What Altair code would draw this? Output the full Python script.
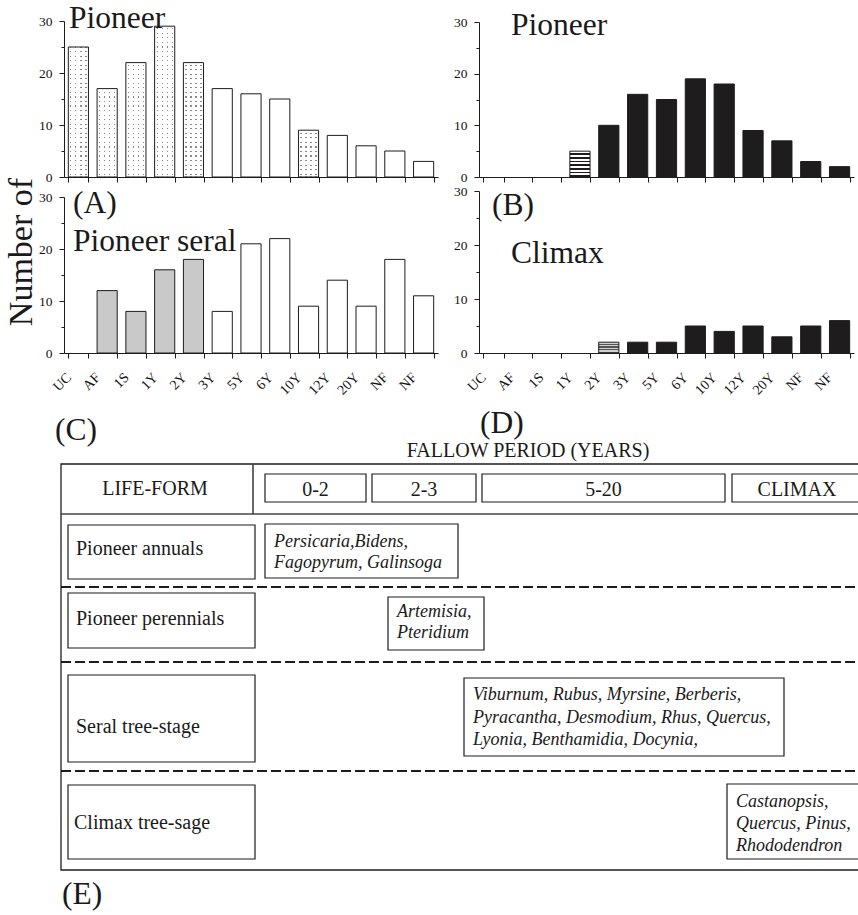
import altair as alt
import pandas as pd

W, H = 858, 915
SERIF = "Liberation Serif"
INK = "#1f1c1d"

# Fallow-age classes along the x axis (two separate "NF" classes)
periods = ["UC", "AF", "1S", "1Y", "2Y", "3Y", "5Y", "6Y", "10Y", "12Y", "20Y", "NF", "NF"]

# Number of species in each class
pioneer_a = [25, 17, 22, 29, 22, 17, 16, 15, 9, 8, 6, 5, 3]
pioneer_b = [0, 0, 0, 5, 10, 16, 15, 19, 18, 9, 7, 3, 2]
seral_c = [0, 12, 8, 16, 18, 8, 21, 22, 9, 14, 9, 18, 11]
climax_d = [0, 0, 0, 0, 2, 2, 2, 5, 4, 5, 3, 5, 6]

# Bar shading per class
shade_a = ["dots"] * 5 + ["plain"] * 3 + ["dots"] + ["plain"] * 4
shade_b = ["plain"] * 3 + ["stripes"] + ["solid"] * 9
shade_c = ["plain"] + ["dense"] * 4 + ["plain"] * 8
shade_d = ["plain"] * 4 + ["stripes"] + ["solid"] * 8

SHADES = {"plain": "#ffffff", "dots": "#ffffff", "dense": "#c9c9c9", "solid": INK}

# Succession table (E)
period_heads = ["0-2", "2-3", "5-20", "CLIMAX"]
life_forms = ["Pioneer annuals", "Pioneer perennials", "Seral tree-stage", "Climax tree-sage"]
species = [
    ["Persicaria,Bidens,", "Fagopyrum, Galinsoga"],
    ["Artemisia,", "Pteridium"],
    ["Viburnum, Rubus, Myrsine, Berberis,", "Pyracantha, Desmodium, Rhus,  Quercus,",
     "Lyonia, Benthamidia,  Docynia,"],
    ["Castanopsis,", "Quercus, Pinus,", "Rhododendron"],
]

label_js = "[" + ",".join("'%s'" % p for p in periods) + "][datum.value]"
N = len(periods)
PAD_IN, PAD_OUT = 0.3, 0.15


def banded(n, on, off, along="y", on_frac=0.45, start=0.55):
    """Linear gradient made of n hard-edged bands."""
    stops = []
    for k in range(n):
        a, b, c = k / n, (k + start) / n, min((k + start + on_frac) / n, (k + 1) / n)
        stops += [{"offset": a, "color": off}, {"offset": b, "color": off},
                  {"offset": b, "color": on}, {"offset": c, "color": on},
                  {"offset": c, "color": off}, {"offset": (k + 1) / n, "color": off}]
    g = {"gradient": "linear", "x1": 0, "y1": 0, "x2": 0, "y2": 1, "stops": stops}
    if along == "x":
        g.update(x2=1, y2=0)
    return g


def encodings(x_px, y_px, labels=None, axes=True):
    xaxis = dict(orient="bottom", offset=y_px[0] - H, tickBand="extent", tickSize=5,
                 tickColor=INK, domainColor=INK, tickWidth=1, domainWidth=1,
                 title=None, grid=False, labels=labels is not None)
    if labels is not None:
        xaxis.update(labelExpr=label_js, labelAngle=-45, labelAlign="right",
                     labelBaseline="middle", labelOffset=labels[0], labelPadding=labels[1],
                     labelFont=SERIF, labelFontSize=14, labelColor="#111")
    yaxis = alt.Axis(orient="left", offset=-x_px[0], values=[0, 5, 10, 15, 20, 25, 30],
                     labelExpr="datum.value % 10 === 0 ? datum.label : ''",
                     tickSize={"condition": {"test": "datum.value % 10 === 0", "value": 5}, "value": 3},
                     tickColor=INK, domainColor=INK, labelFont=SERIF, labelFontSize=13.5,
                     labelColor="#111", labelPadding=7, title=None, grid=False)
    return dict(
        x=alt.X("cls:O", scale=alt.Scale(domain=list(range(N)), range=list(x_px),
                                         paddingInner=PAD_IN, paddingOuter=PAD_OUT),
                axis=alt.Axis(**xaxis) if axes else None),
        y=alt.Y("count:Q", scale=alt.Scale(domain=[0, 30], range=list(y_px), nice=False),
                axis=yaxis if axes else None),
    )


def frame_of(values, shades):
    df = pd.DataFrame({"cls": list(range(N)), "count": values, "shade": shades})
    return df[df["count"] > 0]


def shade_fill(pattern_name, pattern):
    return alt.condition("datum.shade === '%s'" % pattern_name, alt.value(pattern),
                         alt.Fill("shade:N", scale=alt.Scale(domain=list(SHADES), range=list(SHADES.values())),
                                  legend=None))


def bar_panel(values, shades, x_px, y_px, pattern_name, pattern, labels=None):
    return alt.Chart(frame_of(values, shades)).mark_bar(stroke=INK, strokeWidth=1).encode(
        fill=shade_fill(pattern_name, pattern), **encodings(x_px, y_px, labels))


def dotted_panel(values, shades, x_px, y_px, pattern_name, cols, pitch, dot, frac, labels=None):
    """Bars whose pattern is dot columns cut into dots by a white row screen."""
    data = frame_of(values, shades)
    fill = alt.Chart(data).mark_bar(strokeWidth=0).encode(
        fill=shade_fill(pattern_name, banded(cols, dot, "#ffffff", along="x", on_frac=frac,
                                             start=(1 - frac) / 2)),
        **encodings(x_px, y_px, labels))
    top, bottom = y_px[1] + 1, y_px[0] - 0.5
    rows = int(round((bottom - top) / pitch))
    screen = alt.Chart(pd.DataFrame({"x": [x_px[0] + 1], "x2": [x_px[1]], "y": [top], "y2": [bottom]})).mark_rect(
        fill=banded(rows, "rgba(255,255,255,0)", "#ffffff", on_frac=frac, start=(1 - frac) / 2)
    ).encode(x=alt.X("x:Q", scale=None, axis=None), x2="x2:Q",
             y=alt.Y("y:Q", scale=None, axis=None), y2="y2:Q")
    outline = alt.Chart(data).mark_bar(stroke=INK, strokeWidth=1, fillOpacity=0).encode(
        **encodings(x_px, y_px, axes=False))
    return [fill, screen, outline]


pa = dotted_panel(pioneer_a, shade_a, (64, 438), (177, 21), "dots", 4, 4.5, "#8a8a8a", 0.25)
pb = bar_panel(pioneer_b, shade_b, (479, 854), (177, 22), "stripes", banded(7, INK, "#ffffff"))
pc = bar_panel(seral_c, shade_c, (64, 438), (353, 197), "none", "#ffffff", labels=(-9.5, 17))
pd_ = bar_panel(climax_d, shade_d, (479, 854), (353, 191), "stripes",
                banded(4, "#555555", "#d0d0d0"), labels=(-10, 17))


def px():
    return dict(x=alt.X("x:Q", scale=None, axis=None), y=alt.Y("y:Q", scale=None, axis=None))


def texts(df, **mark):
    style = dict(font=SERIF, align="left", baseline="alphabetic", color="#1a1a1a")
    style.update(mark)
    return alt.Chart(pd.DataFrame(df)).mark_text(**style).encode(text="t:N", **px())


# Panel names and letters
panel_text = texts({"t": ["Pioneer", "Pioneer", "Pioneer seral", "Climax", "(A)", "(B)", "(C)", "(D)", "(E)"],
                    "x": [69, 511, 73, 511, 73, 492, 55, 480, 62],
                    "y": [28, 35, 251, 263, 213, 215, 440, 433, 904]}, fontSize=31.5)
y_title = texts({"t": ["Number of"], "x": [32], "y": [252]}, fontSize=34, angle=270, align="center")

# Table frame
frame = pd.DataFrame({"x": [61], "x2": [868], "y": [464], "y2": [870]})
frame_layer = alt.Chart(frame).mark_rect(fill=None, stroke=INK, strokeWidth=1.3).encode(
    x=alt.X("x:Q", scale=None, axis=None), x2="x2:Q", y=alt.Y("y:Q", scale=None, axis=None), y2="y2:Q")

solid_rules = pd.DataFrame({"x": [61, 253], "x2": [868, 253], "y": [514, 464], "y2": [514, 514]})
solid_layer = alt.Chart(solid_rules).mark_rule(color="#444", strokeWidth=1.6).encode(
    x=alt.X("x:Q", scale=None, axis=None), x2="x2:Q", y=alt.Y("y:Q", scale=None, axis=None), y2="y2:Q")

dash_rules = pd.DataFrame({"x": [61, 61, 61], "x2": [868, 868, 868], "y": [587, 662, 771]})
dash_layer = alt.Chart(dash_rules).mark_rule(color=INK, strokeWidth=2, strokeDash=[10, 4]).encode(
    x=alt.X("x:Q", scale=None, axis=None), x2="x2:Q", y=alt.Y("y:Q", scale=None, axis=None))

boxes = pd.DataFrame({
    "x": [265, 372, 482, 732, 68, 68, 68, 68, 265, 388, 464, 727],
    "x2": [366, 476, 725, 862, 255, 255, 255, 255, 458, 484, 784, 866],
    "y": [474, 474, 474, 474, 525, 593, 675, 785, 524, 597, 678, 784],
    "y2": [502, 502, 502, 502, 579, 648, 762, 859, 578, 650, 756, 859],
})
box_layer = alt.Chart(boxes).mark_rect(fill="white", stroke=INK, strokeWidth=1.2).encode(
    x=alt.X("x:Q", scale=None, axis=None), x2="x2:Q", y=alt.Y("y:Q", scale=None, axis=None), y2="y2:Q")

head_text = texts({"t": ["FALLOW PERIOD (YEARS)", "LIFE-FORM"] + period_heads,
                   "x": [528, 155, 315.5, 424, 603.5, 797],
                   "y": [457, 495, 496, 496, 496, 496]}, fontSize=20, align="center")
form_text = texts({"t": life_forms, "x": [76, 76, 76, 74], "y": [555, 625, 733, 829]}, fontSize=20)

sp_x = [274, 397, 473, 736]
sp_y = [[547, 568], [617, 638], [700, 723, 745], [807, 829, 851]]
sp_rows = {"t": [], "x": [], "y": []}
for lines, x0, ys in zip(species, sp_x, sp_y):
    for line, yy in zip(lines, ys):
        sp_rows["t"].append(line)
        sp_rows["x"].append(x0)
        sp_rows["y"].append(yy)
species_text = texts(sp_rows, fontSize=18, fontStyle="italic")

chart = alt.layer(
    *pa, pb, pc, pd_,
    frame_layer, solid_layer, dash_layer, box_layer,
    head_text, form_text, species_text, panel_text, y_title,
).resolve_scale(x="independent", y="independent", fill="independent").properties(
    width=W, height=H, padding=0, autosize=alt.AutoSizeParams(type="none"),
    background="white",
).configure_view(strokeWidth=0)

chart.save("out.html", embed_options={"renderer": "svg", "actions": False})
